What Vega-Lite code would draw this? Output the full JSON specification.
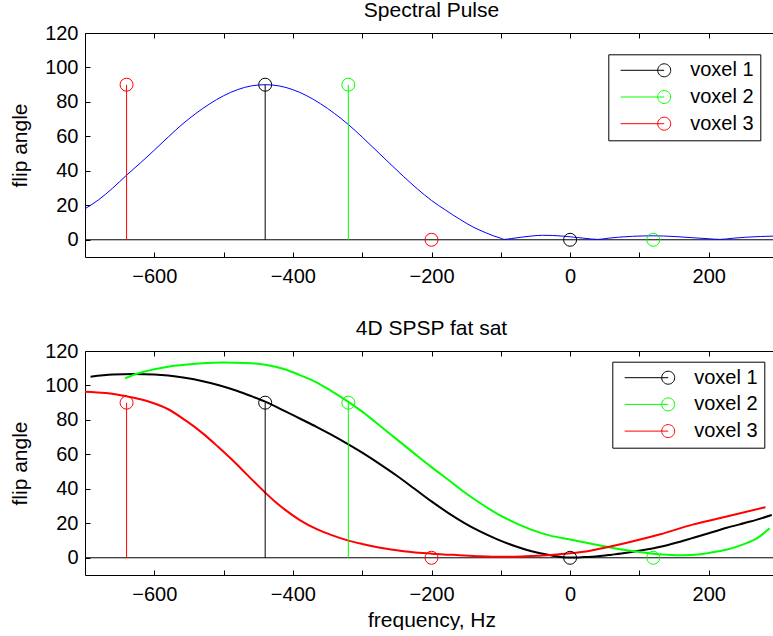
{
  "$schema": "https://vega.github.io/schema/vega-lite/v6.json",
  "background": "white",
  "padding": {"left": 9, "top": 0, "right": 0, "bottom": 0},
  "config": {
    "view": {"stroke": null},
    "font": "Liberation Sans",
    "axis": {"domainColor": "black", "tickColor": "black", "labelColor": "black", "titleColor": "black", "grid": false, "labelFont": "Liberation Sans", "titleFont": "Liberation Sans", "labelFontSize": 20, "titleFontSize": 21, "titleFontWeight": "normal", "tickSize": -5, "labelFlush": false, "labelOverlap": false, "domainWidth": 1, "tickWidth": 1},
    "title": {"font": "Liberation Sans", "fontSize": 21, "fontWeight": "normal", "color": "black", "baseline": "alphabetic", "offset": 2, "anchor": "middle"},
    "legend": {"titleFontSize": 20}
  },
  "datasets": {
    "pulse": [
      {"freq": -700, "value": 18.0}, {"freq": -680, "value": 23.3}, {"freq": -660, "value": 30.0}, {"freq": -640, "value": 37.5},
      {"freq": -620, "value": 44.6}, {"freq": -600, "value": 52.0}, {"freq": -580, "value": 59.6}, {"freq": -560, "value": 66.9},
      {"freq": -540, "value": 73.3}, {"freq": -520, "value": 78.9}, {"freq": -500, "value": 83.6}, {"freq": -480, "value": 87.1},
      {"freq": -460, "value": 89.3}, {"freq": -440, "value": 90.0}, {"freq": -420, "value": 89.3}, {"freq": -400, "value": 87.1},
      {"freq": -380, "value": 83.6}, {"freq": -360, "value": 78.9}, {"freq": -340, "value": 73.3}, {"freq": -320, "value": 66.9},
      {"freq": -300, "value": 59.6}, {"freq": -280, "value": 51.9}, {"freq": -260, "value": 44.2}, {"freq": -240, "value": 36.6},
      {"freq": -220, "value": 29.4}, {"freq": -200, "value": 22.8}, {"freq": -180, "value": 17.3}, {"freq": -160, "value": 12.1},
      {"freq": -140, "value": 7.4}, {"freq": -120, "value": 3.8}, {"freq": -110, "value": 2.2}, {"freq": -100, "value": 0.9},
      {"freq": -95, "value": 0.2}, {"freq": -85, "value": 0.7}, {"freq": -70, "value": 1.5}, {"freq": -55, "value": 2.2},
      {"freq": -40, "value": 2.6}, {"freq": -25, "value": 2.5}, {"freq": -10, "value": 2.1}, {"freq": 5, "value": 1.5},
      {"freq": 20, "value": 0.9}, {"freq": 40, "value": 0.2}, {"freq": 55, "value": 0.9}, {"freq": 70, "value": 1.5},
      {"freq": 90, "value": 2.0}, {"freq": 120, "value": 2.3}, {"freq": 150, "value": 1.9}, {"freq": 180, "value": 1.1},
      {"freq": 200, "value": 0.6}, {"freq": 216, "value": 0.2}, {"freq": 235, "value": 0.9}, {"freq": 255, "value": 1.5},
      {"freq": 275, "value": 1.9}, {"freq": 300, "value": 2.2}
    ],
    "stems": [
      {"voxel": "voxel 1", "freq": -440, "value": 90}, {"voxel": "voxel 1", "freq": 0, "value": 0},
      {"voxel": "voxel 2", "freq": -320, "value": 90}, {"voxel": "voxel 2", "freq": 120, "value": 0},
      {"voxel": "voxel 3", "freq": -640, "value": 90}, {"voxel": "voxel 3", "freq": -200, "value": 0}
    ],
    "profiles": [
      {"voxel": "voxel 1", "freq": -692, "value": 105.1}, {"voxel": "voxel 1", "freq": -660, "value": 106.3}, {"voxel": "voxel 1", "freq": -630, "value": 106.7},
      {"voxel": "voxel 1", "freq": -600, "value": 106.4}, {"voxel": "voxel 1", "freq": -580, "value": 105.8}, {"voxel": "voxel 1", "freq": -556, "value": 104.5},
      {"voxel": "voxel 1", "freq": -530, "value": 102.5}, {"voxel": "voxel 1", "freq": -508, "value": 100.3}, {"voxel": "voxel 1", "freq": -480, "value": 96.8},
      {"voxel": "voxel 1", "freq": -460, "value": 93.8}, {"voxel": "voxel 1", "freq": -440, "value": 90.6}, {"voxel": "voxel 1", "freq": -410, "value": 84.8},
      {"voxel": "voxel 1", "freq": -388, "value": 80.4}, {"voxel": "voxel 1", "freq": -366, "value": 76.0}, {"voxel": "voxel 1", "freq": -346, "value": 71.7},
      {"voxel": "voxel 1", "freq": -320, "value": 65.8}, {"voxel": "voxel 1", "freq": -300, "value": 61.0}, {"voxel": "voxel 1", "freq": -274, "value": 54.2},
      {"voxel": "voxel 1", "freq": -250, "value": 47.6}, {"voxel": "voxel 1", "freq": -225, "value": 40.2}, {"voxel": "voxel 1", "freq": -200, "value": 32.7},
      {"voxel": "voxel 1", "freq": -175, "value": 25.8}, {"voxel": "voxel 1", "freq": -153, "value": 20.3}, {"voxel": "voxel 1", "freq": -130, "value": 15.3},
      {"voxel": "voxel 1", "freq": -105, "value": 10.7}, {"voxel": "voxel 1", "freq": -80, "value": 6.8}, {"voxel": "voxel 1", "freq": -57, "value": 3.9},
      {"voxel": "voxel 1", "freq": -28, "value": 1.4}, {"voxel": "voxel 1", "freq": 0, "value": 0.1}, {"voxel": "voxel 1", "freq": 20, "value": 0.4},
      {"voxel": "voxel 1", "freq": 40, "value": 0.9}, {"voxel": "voxel 1", "freq": 60, "value": 1.8}, {"voxel": "voxel 1", "freq": 82, "value": 2.9},
      {"voxel": "voxel 1", "freq": 110, "value": 4.8}, {"voxel": "voxel 1", "freq": 140, "value": 7.3}, {"voxel": "voxel 1", "freq": 160, "value": 9.4},
      {"voxel": "voxel 1", "freq": 178, "value": 11.6}, {"voxel": "voxel 1", "freq": 200, "value": 14.2}, {"voxel": "voxel 1", "freq": 226, "value": 17.4},
      {"voxel": "voxel 1", "freq": 260, "value": 21.0}, {"voxel": "voxel 1", "freq": 291, "value": 24.8},
      {"voxel": "voxel 2", "freq": -642, "value": 104.2}, {"voxel": "voxel 2", "freq": -624, "value": 106.9}, {"voxel": "voxel 2", "freq": -600, "value": 109.4},
      {"voxel": "voxel 2", "freq": -580, "value": 110.9}, {"voxel": "voxel 2", "freq": -556, "value": 112.0}, {"voxel": "voxel 2", "freq": -530, "value": 112.9},
      {"voxel": "voxel 2", "freq": -500, "value": 113.3}, {"voxel": "voxel 2", "freq": -470, "value": 113.1}, {"voxel": "voxel 2", "freq": -440, "value": 112.0},
      {"voxel": "voxel 2", "freq": -412, "value": 109.4}, {"voxel": "voxel 2", "freq": -390, "value": 106.0}, {"voxel": "voxel 2", "freq": -364, "value": 101.4},
      {"voxel": "voxel 2", "freq": -346, "value": 97.2}, {"voxel": "voxel 2", "freq": -320, "value": 90.5}, {"voxel": "voxel 2", "freq": -300, "value": 84.8},
      {"voxel": "voxel 2", "freq": -274, "value": 76.5}, {"voxel": "voxel 2", "freq": -250, "value": 68.7}, {"voxel": "voxel 2", "freq": -225, "value": 60.6},
      {"voxel": "voxel 2", "freq": -200, "value": 52.6}, {"voxel": "voxel 2", "freq": -175, "value": 45.0}, {"voxel": "voxel 2", "freq": -153, "value": 38.2},
      {"voxel": "voxel 2", "freq": -130, "value": 31.8}, {"voxel": "voxel 2", "freq": -105, "value": 25.5}, {"voxel": "voxel 2", "freq": -80, "value": 20.4},
      {"voxel": "voxel 2", "freq": -57, "value": 16.5}, {"voxel": "voxel 2", "freq": -30, "value": 13.0}, {"voxel": "voxel 2", "freq": 0, "value": 10.6},
      {"voxel": "voxel 2", "freq": 29, "value": 8.3}, {"voxel": "voxel 2", "freq": 60, "value": 5.8}, {"voxel": "voxel 2", "freq": 82, "value": 4.3},
      {"voxel": "voxel 2", "freq": 116, "value": 2.5}, {"voxel": "voxel 2", "freq": 140, "value": 1.8}, {"voxel": "voxel 2", "freq": 164, "value": 1.5},
      {"voxel": "voxel 2", "freq": 185, "value": 1.9}, {"voxel": "voxel 2", "freq": 202, "value": 2.9}, {"voxel": "voxel 2", "freq": 225, "value": 4.6},
      {"voxel": "voxel 2", "freq": 250, "value": 7.8}, {"voxel": "voxel 2", "freq": 270, "value": 11.4}, {"voxel": "voxel 2", "freq": 288, "value": 17.1},
      {"voxel": "voxel 3", "freq": -700, "value": 96.4}, {"voxel": "voxel 3", "freq": -670, "value": 95.6}, {"voxel": "voxel 3", "freq": -640, "value": 93.7},
      {"voxel": "voxel 3", "freq": -620, "value": 92.0}, {"voxel": "voxel 3", "freq": -604, "value": 90.1}, {"voxel": "voxel 3", "freq": -580, "value": 86.2},
      {"voxel": "voxel 3", "freq": -556, "value": 80.0}, {"voxel": "voxel 3", "freq": -530, "value": 72.2}, {"voxel": "voxel 3", "freq": -508, "value": 64.4},
      {"voxel": "voxel 3", "freq": -490, "value": 57.7}, {"voxel": "voxel 3", "freq": -475, "value": 51.8}, {"voxel": "voxel 3", "freq": -458, "value": 44.9},
      {"voxel": "voxel 3", "freq": -440, "value": 37.8}, {"voxel": "voxel 3", "freq": -426, "value": 32.7}, {"voxel": "voxel 3", "freq": -412, "value": 28.1},
      {"voxel": "voxel 3", "freq": -390, "value": 21.9}, {"voxel": "voxel 3", "freq": -364, "value": 16.3}, {"voxel": "voxel 3", "freq": -346, "value": 13.4},
      {"voxel": "voxel 3", "freq": -321, "value": 10.1}, {"voxel": "voxel 3", "freq": -300, "value": 8.0}, {"voxel": "voxel 3", "freq": -274, "value": 5.8},
      {"voxel": "voxel 3", "freq": -240, "value": 3.8}, {"voxel": "voxel 3", "freq": -200, "value": 2.4}, {"voxel": "voxel 3", "freq": -160, "value": 1.5},
      {"voxel": "voxel 3", "freq": -130, "value": 0.9}, {"voxel": "voxel 3", "freq": -100, "value": 0.6}, {"voxel": "voxel 3", "freq": -70, "value": 0.8},
      {"voxel": "voxel 3", "freq": -45, "value": 1.2}, {"voxel": "voxel 3", "freq": -20, "value": 1.9}, {"voxel": "voxel 3", "freq": 0, "value": 2.6},
      {"voxel": "voxel 3", "freq": 29, "value": 4.1}, {"voxel": "voxel 3", "freq": 50, "value": 5.8}, {"voxel": "voxel 3", "freq": 82, "value": 8.7},
      {"voxel": "voxel 3", "freq": 130, "value": 13.6}, {"voxel": "voxel 3", "freq": 178, "value": 19.4}, {"voxel": "voxel 3", "freq": 226, "value": 23.9},
      {"voxel": "voxel 3", "freq": 282, "value": 29.4}
    ]
  },
  "spacing": 94,
  "bounds": "flush",
  "resolve": {"scale": {"stroke": "independent"}, "legend": {"stroke": "independent"}},
  "vconcat": [
    {
      "width": 693,
      "height": 224,
      "title": {"text": "Spectral Pulse"},
      "resolve": {"axis": {"x": "independent", "y": "independent"}},
      "layer": [
        {
          "data": {"values": [{}]},
          "mark": {"type": "rule", "stroke": "black", "strokeWidth": 1},
          "encoding": {"y": {"datum": 0, "type": "quantitative", "scale": {"domain": [-10, 120], "nice": false, "zero": false}, "axis": null}}
        },
        {
          "data": {"name": "pulse"},
          "mark": {"type": "line", "stroke": "#0000ff", "strokeWidth": 1, "interpolate": "monotone", "clip": true},
          "encoding": {
            "x": {"field": "freq", "type": "quantitative", "scale": {"domain": [-700, 300], "nice": false, "zero": false},
                  "axis": {"orient": "bottom", "values": [-600, -500, -400, -300, -200, -100, 0, 100, 200], "labelPadding": 14.5, "labelBaseline": "top", "labelExpr": "datum.value % 200 == 0 ? (datum.value < 0 ? datum.label + '\u2007' : datum.label) : ''", "title": null}},
            "y": {"field": "value", "type": "quantitative", "scale": {"domain": [-10, 120], "nice": false, "zero": false},
                  "axis": {"orient": "left", "values": [0, 20, 40, 60, 80, 100, 120], "labelPadding": 12, "title": "flip angle", "titleX": -59, "titleBaseline": "alphabetic", "titleAngle": 270, "titleAlign": "center"}}
          }
        },
        {
          "data": {"name": "stems"},
          "mark": {"type": "rule", "strokeWidth": 1},
          "encoding": {
            "x": {"field": "freq", "type": "quantitative", "scale": {"domain": [-700, 300], "nice": false, "zero": false},
                  "axis": {"orient": "top", "values": [-600, -500, -400, -300, -200, -100, 0, 100, 200], "labels": false, "title": null}},
            "y": {"field": "value", "type": "quantitative", "scale": {"domain": [-10, 120], "nice": false, "zero": false},
                  "axis": {"orient": "right", "values": [0, 20, 40, 60, 80, 100, 120], "labels": false, "title": null}},
            "y2": {"datum": 0},
            "stroke": {"field": "voxel", "type": "nominal", "scale": {"domain": ["voxel 1", "voxel 2", "voxel 3"], "range": ["#000000", "#00ff00", "#ff0000"]},
                       "legend": {"title": null, "orient": "none", "legendX": 523.3, "legendY": 21.3, "symbolType": "M-6.7,0H0M1,0A1,1,0,1,1,-1,0A1,1,0,1,1,1,0", "symbolSize": 169, "symbolStrokeWidth": 1, "symbolFillColor": "transparent", "symbolOffset": 39.9, "labelOffset": 16, "labelFont": "Liberation Sans", "labelFontSize": 20, "labelColor": "black", "padding": 6, "rowPadding": 6.7, "strokeColor": "black", "fillColor": "white", "cornerRadius": 0}}
          }
        },
        {
          "data": {"name": "stems"},
          "mark": {"type": "point", "shape": "circle", "filled": false, "size": 169, "strokeWidth": 1, "opacity": 1},
          "encoding": {
            "x": {"field": "freq", "type": "quantitative", "axis": null},
            "y": {"field": "value", "type": "quantitative", "axis": null},
            "stroke": {"field": "voxel", "type": "nominal", "scale": {"domain": ["voxel 1", "voxel 2", "voxel 3"], "range": ["#000000", "#00ff00", "#ff0000"]},
                       "legend": {"title": null, "orient": "none", "legendX": 523.3, "legendY": 21.3, "symbolType": "M-6.7,0H0M1,0A1,1,0,1,1,-1,0A1,1,0,1,1,1,0", "symbolSize": 169, "symbolStrokeWidth": 1, "symbolFillColor": "transparent", "symbolOffset": 39.9, "labelOffset": 16, "labelFont": "Liberation Sans", "labelFontSize": 20, "labelColor": "black", "padding": 6, "rowPadding": 6.7, "strokeColor": "black", "fillColor": "white", "cornerRadius": 0}}
          }
        }
      ]
    },
    {
      "width": 693,
      "height": 224,
      "title": {"text": "4D SPSP fat sat"},
      "resolve": {"axis": {"x": "independent", "y": "independent"}},
      "layer": [
        {
          "data": {"values": [{}]},
          "mark": {"type": "rule", "stroke": "black", "strokeWidth": 1},
          "encoding": {"y": {"datum": 0, "type": "quantitative", "scale": {"domain": [-10, 120], "nice": false, "zero": false}, "axis": null}}
        },
        {
          "data": {"name": "profiles"},
          "mark": {"type": "line", "strokeWidth": 2, "interpolate": "monotone", "clip": true},
          "encoding": {
            "x": {"field": "freq", "type": "quantitative", "scale": {"domain": [-700, 300], "nice": false, "zero": false},
                  "axis": {"orient": "bottom", "values": [-600, -500, -400, -300, -200, -100, 0, 100, 200], "labelPadding": 14.5, "labelBaseline": "top", "labelExpr": "datum.value % 200 == 0 ? (datum.value < 0 ? datum.label + '\u2007' : datum.label) : ''", "title": "frequency, Hz", "titleY": 51, "titleBaseline": "alphabetic"}},
            "y": {"field": "value", "type": "quantitative", "scale": {"domain": [-10, 120], "nice": false, "zero": false},
                  "axis": {"orient": "left", "values": [0, 20, 40, 60, 80, 100, 120], "labelPadding": 12, "title": "flip angle", "titleX": -59, "titleBaseline": "alphabetic", "titleAngle": 270, "titleAlign": "center"}},
            "stroke": {"field": "voxel", "type": "nominal", "scale": {"domain": ["voxel 1", "voxel 2", "voxel 3"], "range": ["#000000", "#00ff00", "#ff0000"]},
                       "legend": {"title": null, "orient": "none", "legendX": 527.3, "legendY": 10.7, "symbolType": "M-6.7,0H0M1,0A1,1,0,1,1,-1,0A1,1,0,1,1,1,0", "symbolSize": 169, "symbolStrokeWidth": 1, "symbolFillColor": "transparent", "symbolOffset": 39.9, "labelOffset": 16, "labelFont": "Liberation Sans", "labelFontSize": 20, "labelColor": "black", "padding": 6, "rowPadding": 6.7, "strokeColor": "black", "fillColor": "white", "cornerRadius": 0}}
          }
        },
        {
          "data": {"name": "stems"},
          "mark": {"type": "rule", "strokeWidth": 1},
          "encoding": {
            "x": {"field": "freq", "type": "quantitative", "scale": {"domain": [-700, 300], "nice": false, "zero": false},
                  "axis": {"orient": "top", "values": [-600, -500, -400, -300, -200, -100, 0, 100, 200], "labels": false, "title": null}},
            "y": {"field": "value", "type": "quantitative", "scale": {"domain": [-10, 120], "nice": false, "zero": false},
                  "axis": {"orient": "right", "values": [0, 20, 40, 60, 80, 100, 120], "labels": false, "title": null}},
            "y2": {"datum": 0},
            "stroke": {"field": "voxel", "type": "nominal", "scale": {"domain": ["voxel 1", "voxel 2", "voxel 3"], "range": ["#000000", "#00ff00", "#ff0000"]},
                       "legend": {"title": null, "orient": "none", "legendX": 527.3, "legendY": 10.7, "symbolType": "M-6.7,0H0M1,0A1,1,0,1,1,-1,0A1,1,0,1,1,1,0", "symbolSize": 169, "symbolStrokeWidth": 1, "symbolFillColor": "transparent", "symbolOffset": 39.9, "labelOffset": 16, "labelFont": "Liberation Sans", "labelFontSize": 20, "labelColor": "black", "padding": 6, "rowPadding": 6.7, "strokeColor": "black", "fillColor": "white", "cornerRadius": 0}}
          }
        },
        {
          "data": {"name": "stems"},
          "mark": {"type": "point", "shape": "circle", "filled": false, "size": 169, "strokeWidth": 1, "opacity": 1},
          "encoding": {
            "x": {"field": "freq", "type": "quantitative", "axis": null},
            "y": {"field": "value", "type": "quantitative", "axis": null},
            "stroke": {"field": "voxel", "type": "nominal", "scale": {"domain": ["voxel 1", "voxel 2", "voxel 3"], "range": ["#000000", "#00ff00", "#ff0000"]},
                       "legend": {"title": null, "orient": "none", "legendX": 527.3, "legendY": 10.7, "symbolType": "M-6.7,0H0M1,0A1,1,0,1,1,-1,0A1,1,0,1,1,1,0", "symbolSize": 169, "symbolStrokeWidth": 1, "symbolFillColor": "transparent", "symbolOffset": 39.9, "labelOffset": 16, "labelFont": "Liberation Sans", "labelFontSize": 20, "labelColor": "black", "padding": 6, "rowPadding": 6.7, "strokeColor": "black", "fillColor": "white", "cornerRadius": 0}}
          }
        }
      ]
    }
  ]
}
